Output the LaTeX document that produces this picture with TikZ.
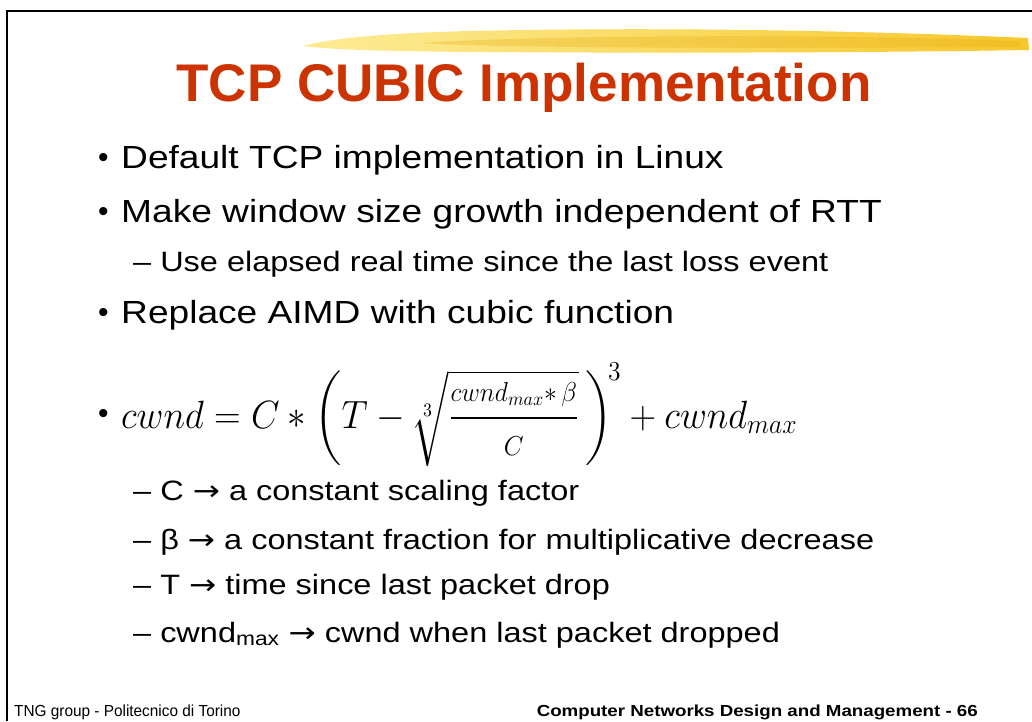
\documentclass[tikz,border=0pt]{standalone}
\usepackage{fontspec}
\usepackage{amsmath}
\setmainfont{Liberation Sans}
\newfontfamily\symfont{DejaVu Sans}
\usetikzlibrary{positioning}
\definecolor{ctitle}{RGB}{204,51,0}
\definecolor{cbrushlight}{RGB}{253,236,150}
\definecolor{cbrush}{RGB}{246,200,45}
\definecolor{cbrushdark}{RGB}{232,172,18}
\newcommand{\wide}[1]{\scalebox{1.16}[1]{#1}}
\newcommand{\arr}{{\symfont →}}
\tikzset{slide/.style={x=1pt,y=1pt},
  titletext/.style={anchor=base,inner sep=0pt,text=ctitle,font=\fontsize{53}{60}\selectfont\bfseries},
  itemtext/.style={anchor=base west,inner sep=0pt,font=\fontsize{32}{36}\selectfont},
  dotmark/.style={anchor=base west,inner sep=0pt,font=\fontsize{30}{34}\selectfont},
  subtext/.style={anchor=base west,inner sep=0pt,font=\fontsize{28}{32}\selectfont},
  mathtext/.style={anchor=base west,inner sep=0pt,font=\fontsize{20}{24}\selectfont},
  foottext/.style={inner sep=0pt,font=\fontsize{16}{18}\selectfont}}

\begin{document}
\begin{tikzpicture}[slide]
    \useasboundingbox (0,0) rectangle (1032,-721);
    % frame
    \draw[line width=2.6pt] (7,-721) -- (7,-11) -- (1032,-11);
    % brush stroke
    \shade[left color=cbrushlight,right color=cbrush]
      (303,-46) .. controls (330,-38) and (390,-33) .. (470,-31)
      .. controls (650,-27) and (850,-30) .. (1028,-38)
      -- (1029,-50) .. controls (850,-53) and (650,-53) .. (470,-52)
      .. controls (390,-51) and (330,-50) .. cycle;
    \fill[cbrushdark,opacity=0.3]
      (420,-43) .. controls (520,-36) and (800,-33) .. (1020,-41)
      -- (1020,-47) .. controls (800,-48) and (520,-49) .. cycle;
    % title
    \node[titletext] (title) at (524,-101) {TCP CUBIC Implementation};
    % bullets
    \node[dotmark]  (d1) at (98,-167) {•};
    \node[itemtext] (i1) at (121,-168) {\wide{Default TCP implementation in Linux}};
    \node[dotmark]  (d2) at (98,-221) {•};
    \node[itemtext] (i2) at (121,-222) {\wide{Make window size growth independent of RTT}};
    \node[subtext]  (s1) at (133,-271) {\wide{– Use elapsed real time since the last loss event}};
    \node[dotmark]  (d3) at (98,-322) {•};
    \node[itemtext] (i3) at (121,-323) {\wide{Replace AIMD with cubic function}};
    \node[dotmark]  (d4) at (98,-423) {•};
    \node[mathtext] (f)  at (121,-428)
      {\scalebox{1.78}[1.9]{$\displaystyle cwnd = C * \left(T - \sqrt[3]{\frac{\scriptstyle cwnd_{max}{*}\,\beta\rule{0pt}{8pt}}{\scriptstyle C\rule[-4pt]{0pt}{4pt}}}\,\right)^{\!3} + cwnd_{max}$}};
    \node[subtext] (s2) at (133,-500) {\wide{– C \arr{} a constant scaling factor}};
    \node[subtext] (s3) at (133,-549) {\wide{– β \arr{} a constant fraction for multiplicative decrease}};
    \node[subtext] (s4) at (133,-594) {\wide{– T \arr{} time since last packet drop}};
    \node[subtext] (s5) at (133,-642) {\wide{– cwnd\textsubscript{max} \arr{} cwnd when last packet dropped}};
    % footer
    \node[foottext,anchor=base west] (fl) at (14,-716) {\scalebox{0.96}[1]{TNG group - Politecnico di Torino}};
    \node[foottext,anchor=base east] (fr) at (978,-716) {\scalebox{1.17}[1]{\bfseries Computer Networks Design and Management - 66}};
\end{tikzpicture}
\end{document}
